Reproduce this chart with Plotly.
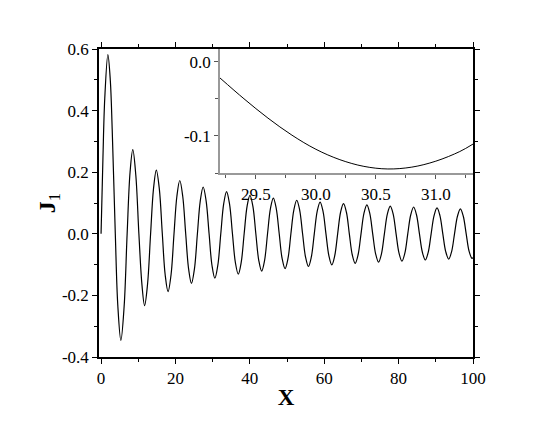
import plotly.graph_objects as go

# main curve: zeros, eighth-points and extrema
x_main = [0, 0.5, 1.0, 1.841, 2.5, 3.0, 3.832,
          4.5, 5.331, 6.2, 7.016,
          7.8, 8.536, 9.35, 10.173,
          11.0, 11.706, 12.5, 13.324,
          14.1, 14.864, 15.67, 16.471,
          17.24, 18.016, 18.82, 19.616,
          20.39, 21.164, 21.96, 22.760,
          23.54, 24.311, 25.11, 25.904,
          26.68, 27.457, 28.25, 29.047,
          29.82, 30.602, 31.40, 32.190,
          32.97, 33.747, 34.54, 35.332,
          36.11, 36.892, 37.68, 38.475,
          39.26, 40.036, 40.83, 41.617,
          42.40, 43.180, 43.97, 44.759,
          45.54, 46.323, 47.11, 47.901,
          48.68, 49.467, 50.26, 51.043,
          51.83, 52.610, 53.40, 54.185,
          54.97, 55.753, 56.54, 57.327,
          58.11, 58.896, 59.68, 60.469,
          61.25, 62.039, 62.83, 63.611,
          64.40, 65.182, 65.97, 66.752,
          67.54, 68.325, 69.11, 69.894,
          70.68, 71.468, 72.25, 73.036,
          73.82, 74.611, 75.39, 76.178,
          76.97, 77.754, 78.54, 79.320,
          80.11, 80.896, 81.68, 82.461,
          83.25, 84.039, 84.82, 85.603,
          86.39, 87.182, 87.96, 88.745,
          89.53, 90.324, 91.11, 91.887,
          92.67, 93.467, 94.25, 95.028,
          95.82, 96.609, 97.39, 98.170,
          98.96, 99.752, 100.0]
j1_main = [0, 0.242, 0.440, 0.582, 0.497, 0.339, 0,
           -0.231, -0.346, -0.237, 0,
           0.200, 0.273, 0.190, 0,
           -0.166, -0.233, -0.164, 0,
           0.146, 0.207, 0.146, 0,
           -0.133, -0.188, -0.133, 0,
           0.122, 0.173, 0.122, 0,
           -0.114, -0.161, -0.114, 0,
           0.107, 0.152, 0.107, 0,
           -0.102, -0.144, -0.102, 0,
           0.097, 0.137, 0.097, 0,
           -0.093, -0.131, -0.093, 0,
           0.089, 0.125, 0.089, 0,
           -0.086, -0.121, -0.086, 0,
           0.082, 0.116, 0.082, 0,
           -0.080, -0.113, -0.080, 0,
           0.077, 0.109, 0.077, 0,
           -0.075, -0.106, -0.075, 0,
           0.073, 0.103, 0.073, 0,
           -0.071, -0.101, -0.071, 0,
           0.070, 0.098, 0.070, 0,
           -0.068, -0.096, -0.068, 0,
           0.066, 0.094, 0.066, 0,
           -0.065, -0.092, -0.065, 0,
           0.064, 0.090, 0.064, 0,
           -0.063, -0.089, -0.063, 0,
           0.061, 0.087, 0.061, 0,
           -0.060, -0.085, -0.060, 0,
           0.059, 0.084, 0.059, 0,
           -0.058, -0.082, -0.058, 0,
           0.057, 0.081, 0.057, 0,
           -0.057, -0.080, -0.077]

# inset: zoom on the trough near x = 30.6
x_inset = [29.2, 29.4, 29.6, 29.8, 30.0, 30.2, 30.4, 30.6, 30.8, 31.0, 31.2, 31.31]
j1_inset = [-0.022, -0.050, -0.076, -0.099, -0.118, -0.132, -0.141, -0.1445,
            -0.142, -0.134, -0.121, -0.111]

main_xticks = [0, 20, 40, 60, 80, 100]
main_yticks = [-0.4, -0.2, 0.0, 0.2, 0.4, 0.6]
main_yticktext = ["-0.4", "-0.2", "0.0", "0.2", "0.4", "0.6"]
inset_xticks = [29.5, 30.0, 30.5, 31.0]
inset_xticktext = ["29.5", "30.0", "30.5", "31.0"]
inset_yticks = [-0.1, 0.0]
inset_yticktext = ["-0.1", "0.0"]

FONT = "Liberation Serif"
tick_font = dict(family=FONT, size=17, color="black")

fig = go.Figure()
fig.add_trace(go.Scatter(x=x_main, y=j1_main, mode="lines", line_shape="spline",
                         line=dict(color="black", width=1.2), xaxis="x", yaxis="y",
                         showlegend=False))
fig.add_trace(go.Scatter(x=x_inset, y=j1_inset, mode="lines", line_shape="spline",
                         line=dict(color="black", width=1), xaxis="x2", yaxis="y2",
                         showlegend=False))

# page body adds an 8px offset, so the figure is shrunk by that much
fig.update_layout(
    width=542, height=421,
    margin=dict(l=91, r=77, t=41, b=72),
    plot_bgcolor="white", paper_bgcolor="white",
    font=dict(family=FONT, size=17, color="black"),
    xaxis=dict(domain=[0, 1], range=[-0.55, 100], tickvals=main_xticks,
               showgrid=False, zeroline=False, showline=True, linecolor="black",
               linewidth=1.5, mirror="ticks", ticks="outside", ticklen=5,
               tickwidth=1.2, tickcolor="black", tickfont=tick_font,
               minor=dict(dtick=10, tick0=0, ticks="outside", ticklen=3, tickcolor="black"),
               title=dict(text="<b>X</b>", font=dict(family=FONT, size=23), standoff=2)),
    yaxis=dict(domain=[0, 1], range=[-0.4, 0.6], tickvals=main_yticks,
               ticktext=main_yticktext,
               showgrid=False, zeroline=False, showline=True, linecolor="black",
               linewidth=1.5, mirror="ticks", ticks="outside", ticklen=5,
               tickwidth=1.2, tickcolor="black", tickfont=tick_font,
               minor=dict(dtick=0.1, tick0=0, ticks="outside", ticklen=3, tickcolor="black"),
               title=dict(text="<b>J</b><sub>1</sub>", font=dict(family=FONT, size=24), standoff=0)),
    xaxis2=dict(domain=[0.3235, 1], anchor="y2", range=[29.2, 31.31],
                tickvals=inset_xticks, ticktext=inset_xticktext,
                showgrid=False, zeroline=False, showline=True, linecolor="#999999",
                linewidth=1.5, ticks="outside", ticklen=4, tickcolor="#555555",
                tickfont=tick_font,
                minor=dict(dtick=0.25, tick0=29.25, ticks="outside", ticklen=3, tickcolor="#555555")),
    yaxis2=dict(domain=[0.596, 1], anchor="x2", range=[-0.1505, 0.017],
                tickvals=inset_yticks, ticktext=inset_yticktext,
                showgrid=False, zeroline=False, showline=True, linecolor="#999999",
                linewidth=1.5, ticks="outside", ticklen=4, tickcolor="#555555",
                tickfont=tick_font,
                minor=dict(dtick=0.05, tick0=0, ticks="outside", ticklen=3, tickcolor="#555555")),
)

fig.write_html("out.html")
